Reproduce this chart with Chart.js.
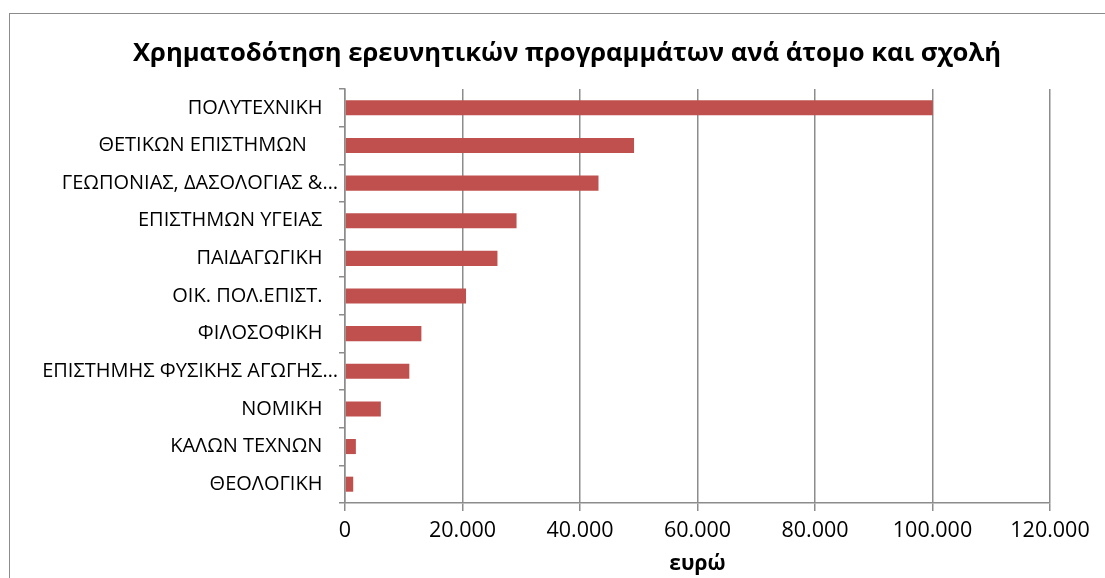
<!DOCTYPE html>
<html>
<head>
<meta charset="utf-8">
<script src="https://cdn.jsdelivr.net/npm/chart.js@4"></script>
<style>
  html, body { margin: 0; padding: 0; background: #fff; overflow: hidden; }
  #frame {
    position: absolute; left: 9px; top: 13px; width: 1200px; height: 700px;
    box-sizing: border-box; border: 1px solid #8c8c8c;
  }
  #wrap { position: absolute; left: 10px; top: 14px; width: 1113px; height: 564px; }
</style>
</head>
<body>
<div id="frame"></div>
<div id="wrap"><canvas id="fundChart"></canvas></div>
<script>
// Data
const schools = [
    'ΠΟΛΥΤΕΧΝΙΚΗ',
    'ΘΕΤΙΚΩΝ ΕΠΙΣΤΗΜΩΝ',
    'ΓΕΩΠΟΝΙΑΣ, ΔΑΣΟΛΟΓΙΑΣ &…',
    'ΕΠΙΣΤΗΜΩΝ ΥΓΕΙΑΣ',
    'ΠΑΙΔΑΓΩΓΙΚΗ',
    'ΟΙΚ. ΠΟΛ.ΕΠΙΣΤ.',
    'ΦΙΛΟΣΟΦΙΚΗ',
    'ΕΠΙΣΤΗΜΗΣ ΦΥΣΙΚΗΣ ΑΓΩΓΗΣ…',
    'ΝΟΜΙΚΗ',
    'ΚΑΛΩΝ ΤΕΧΝΩΝ',
    'ΘΕΟΛΟΓΙΚΗ'
];
const fundingPerPerson = [100050, 49200, 43150, 29200, 25950, 20600, 13000, 10950, 6100, 1850, 1400];
const xMin = 0;
const xMax = 120000;
const xStep = 20000;

const FONT = "'Open Sans', 'Noto Sans', sans-serif";
const GRID = '#8c8c8c';

function fmtThousands(v) {
    return String(v).replace(/\B(?=(\d{3})+(?!\d))/g, '.');
}

// Excel centres the title a bit right of the canvas centre
const shiftTitle = {
    id: 'shiftTitle',
    afterLayout(chart) {
        if (chart.titleBlock) chart.titleBlock.left += 74;
    }
};

const ctx = document.getElementById('fundChart').getContext('2d');

const fundChart = new Chart(ctx, {
    type: 'bar',
    data: {
        labels: schools,
        datasets: [{
            label: 'ευρώ',
            data: fundingPerPerson,
            backgroundColor: '#c0504d',
            borderWidth: 0,
            categoryPercentage: 1.0,
            barPercentage: 0.4
        }]
    },
    options: {
        indexAxis: 'y',
        responsive: true,
        maintainAspectRatio: false,
        animation: false,
        layout: { padding: { right: 73, left: 0, top: 0, bottom: 0 } },
        scales: {
            x: {
                min: xMin,
                max: xMax,
                grid: {
                    color: GRID,
                    lineWidth: 1.5,
                    tickLength: 8,
                    tickColor: GRID
                },
                border: { color: GRID, width: 1.5 },
                ticks: {
                    stepSize: xStep,
                    color: '#000',
                    padding: 7,
                    maxRotation: 0,
                    font: { family: FONT, size: 21.5 },
                    callback: (v) => fmtThousands(v)
                },
                title: {
                    display: true,
                    text: 'ευρώ',
                    color: '#000',
                    padding: { top: 0, bottom: 1 },
                    font: { family: FONT, size: 21, weight: 'bold' }
                },
                afterFit: (scale) => { scale.height = 75; }
            },
            y: {
                offset: true,
                grid: {
                    offset: true,
                    drawOnChartArea: false,
                    tickLength: 6,
                    tickColor: GRID,
                    lineWidth: 1.5
                },
                border: { color: GRID, width: 1.5 },
                ticks: {
                    color: '#000',
                    padding: 1,
                    autoSkip: false,
                    font: { family: FONT, size: 20 },
                    callback: function (v) {
                        const name = this.getLabelForValue(v);
                        // Excel leaves a gap after the untruncated names
                        if (name.endsWith('…')) return name;
                        return name === 'ΘΕΤΙΚΩΝ ΕΠΙΣΤΗΜΩΝ' ? name + '      ' : name + '   ';
                    }
                },
                afterFit: (scale) => { scale.width = 335; }
            }
        },
        plugins: {
            legend: { display: false },
            tooltip: { enabled: false },
            title: {
                display: true,
                text: 'Χρηματοδότηση ερευνητικών προγραμμάτων ανά άτομο και σχολή',
                color: '#000',
                padding: { top: 24.6, bottom: 19.7 },
                font: { family: FONT, size: 25.6, weight: 'bold' }
            }
        }
    },
    plugins: [shiftTitle]
});
</script>
</body>
</html>
